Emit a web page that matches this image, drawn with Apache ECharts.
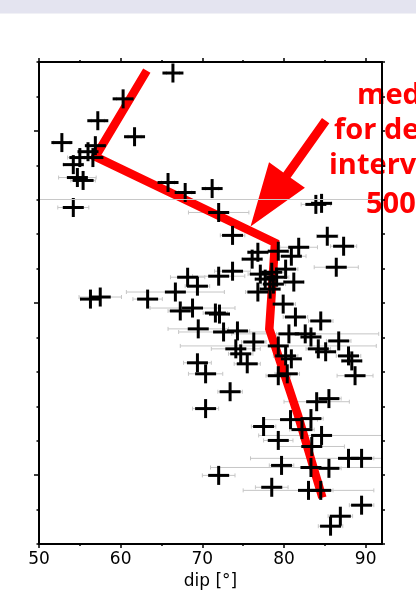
<!DOCTYPE html>
<html>
<head>
<meta charset="utf-8">
<script src="https://cdn.jsdelivr.net/npm/echarts@6/dist/echarts.min.js"></script>
<style>
  html, body { margin: 0; padding: 0; background: #ffffff; }
  #chart { width: 416px; height: 595px; }
</style>
</head>
<body>
<div id="chart"></div>
<script>
// Dip of each fracture measurement [°]
const dip = [
  66.4, 60.3, 57.2, 61.7, 52.8, 56.9, 56.0, 55.0, 56.6, 54.2,
  54.7, 55.4, 54.2, 65.8, 67.9, 71.2, 72.0, 83.9, 84.6, 73.7,
  85.3, 87.3, 81.8, 79.3, 80.9, 76.8, 76.1, 77.1, 86.4, 73.7,
  72.0, 68.2, 69.4, 66.7, 76.8, 78.5, 79.1, 77.7, 78.7, 81.2,
  80.2, 78.3, 63.3, 56.3, 57.5, 67.3, 68.8, 71.6, 72.1, 79.9,
  69.5, 72.6, 74.3, 81.4, 84.5, 80.6, 82.6, 83.3, 86.7, 76.3,
  74.1, 74.7, 79.3, 84.2, 85.1, 87.9, 88.3, 80.2, 80.9, 69.4,
  70.4, 75.5, 79.3, 80.4, 88.7, 73.4, 70.4, 84.0, 85.5, 80.8,
  83.3, 77.5, 82.2, 84.6, 79.3, 83.4, 87.9, 89.5, 79.7, 83.3,
  85.5, 72.0, 78.5, 83.0, 84.5, 89.5, 86.9, 85.7
];
// Depth of each measurement [m]
const depth = [
  664, 814, 941, 1034, 1068, 1086, 1121, 1155, 1155, 1196,
  1271, 1288, 1445, 1300, 1358, 1335, 1474, 1427, 1421, 1607,
  1612, 1670, 1676, 1699, 1728, 1705, 1745, 1832, 1792, 1815,
  1844, 1850, 1902, 1936, 1936, 1821, 1850, 1861, 1890, 1878,
  1803, 1919, 1977, 1977, 1965, 2046, 2029, 2058, 2064, 2006,
  2150, 2168, 2162, 2081, 2104, 2179, 2179, 2197, 2220, 2226,
  2266, 2295, 2249, 2266, 2283, 2307, 2336, 2307, 2324, 2347,
  2411, 2353, 2422, 2411, 2422, 2515, 2613, 2573, 2555, 2677,
  2671, 2717, 2735, 2769, 2798, 2833, 2902, 2902, 2943, 2955,
  2960, 3001, 3070, 3088, 3088, 3174, 3238, 3296
];
// Dip uncertainty, half width [°]
const dipErr = [
  0.8, 0.8, 0.8, 0.8, 1.0, 1.0, 1.0, 1.5, 1.0, 1.2,
  2.3, 1.5, 1.9, 0.8, 0.8, 0.8, 3.7, 1.8, 1.2, 1.5,
  1.3, 1.6, 2.3, 1.2, 1.8, 1.2, 1.2, 1.5, 2.7, 2.2,
  3.2, 2.1, 1.5, 6.0, 1.5, 1.5, 1.5, 1.2, 1.5, 1.2,
  1.5, 1.2, 1.8, 1.2, 2.6, 1.5, 5.2, 1.5, 1.2, 1.5,
  3.7, 5.5, 1.5, 1.5, 1.5, 1.5, 9.0, 1.2, 1.5, 1.5,
  3.0, 1.5, 12.0, 1.5, 1.2, 1.5, 1.2, 1.5, 1.2, 1.7,
  2.1, 1.6, 1.5, 1.5, 2.2, 1.5, 1.6, 4.0, 1.5, 3.3,
  1.5, 1.5, 1.5, 7.7, 1.8, 4.0, 12.0, 1.5, 1.5, 12.3,
  1.5, 2.0, 2.0, 8.0, 1.5, 1.5, 1.5, 1.5
];
// Median dip for each 500 m depth interval
const medianDepth = [650, 1150, 1650, 2150, 2650, 3130];
const medianDip = [63.2, 56.9, 78.9, 78.2, 81.7, 84.7];
// Axis ticks
const dipTicks = [50, 60, 70, 80, 90];
const dipMinorTicks = [55, 65, 75, 85];
const depthMajorTicks = [1000, 2000, 3000];
// Depth of the horizontal reference line [m]
const referenceDepth = 1400;
// Annotation text
const noteLines = ['median', 'for depth', 'interval', '500 m'];

const chart = echarts.init(document.getElementById('chart'), null, { renderer: 'canvas' });

const points = dip.map((d, i) => [d, depth[i], dipErr[i]]);
const medianLine = medianDip.map((d, i) => [d, medianDepth[i]]);

const BLACK = '#000000';
const RED = '#ff0000';
const labelFont = 'DejaVu Sans';
const noteFont = 'bold 29px "Open Sans"';

function xAxisDef(position, ticks, len, withLabels, showLine) {
  const ax = {
    type: 'value', min: 50, max: 92, position: position, z: 5,
    axisLine: { show: showLine, onZero: false, lineStyle: { color: BLACK, width: 2 } },
    axisTick: { show: true, customValues: ticks, length: len, inside: false,
                lineStyle: { color: BLACK, width: 1.5 } },
    axisLabel: { show: false },
    splitLine: { show: false }
  };
  if (withLabels) {
    ax.axisLabel = { show: true, customValues: ticks, color: BLACK,
                     fontFamily: labelFont, fontSize: 17, margin: 7 };
    ax.name = 'dip [°]';
    ax.nameLocation = 'middle';
    ax.nameGap = 27;
    ax.nameTextStyle = { color: BLACK, fontFamily: labelFont, fontSize: 17 };
  }
  return ax;
}

function yAxisDef(position, opts) {
  return Object.assign({
    type: 'value', inverse: true, min: 600, max: 3400, position: position, z: 5,
    axisLine: { show: true, onZero: false, lineStyle: { color: BLACK, width: 2 } },
    axisLabel: { show: false },
    splitLine: { show: false }
  }, opts);
}

const option = {
  animation: false,
  backgroundColor: '#ffffff',
  grid: { left: 39, top: 62, right: 34, bottom: 50, containLabel: false },
  xAxis: [
    xAxisDef('bottom', dipTicks, 4, true, true),
    xAxisDef('bottom', dipMinorTicks, 2, false, false),
    xAxisDef('top', dipTicks, 4, false, true),
    xAxisDef('top', dipMinorTicks, 2, false, false)
  ],
  yAxis: [
    yAxisDef('left', { axisTick: { show: true, customValues: depthMajorTicks, length: 5,
                                   lineStyle: { color: BLACK, width: 1.5 } } }),
    yAxisDef('left', { interval: 200, axisLine: { show: false },
                       axisTick: { show: true, length: 2.5, lineStyle: { color: BLACK, width: 1.5 } } }),
    yAxisDef('right', { interval: 200,
                        axisTick: { show: true, length: 3, lineStyle: { color: BLACK, width: 1.5 } } })
  ],
  graphic: [
    { type: 'rect', left: 0, top: 0, z: -10, silent: true,
      shape: { width: 416, height: 13 }, style: { fill: '#e4e4f0' } },
    { type: 'rect', left: 0, top: 13, z: -10, silent: true,
      shape: { width: 416, height: 1 }, style: { fill: '#f1f1f6' } },
    { type: 'text', x: 357, y: 96, z: -1, silent: true,
      style: { text: noteLines[0], fill: RED, font: noteFont, verticalAlign: 'middle' } },
    { type: 'text', x: 334, y: 131, z: -1, silent: true,
      style: { text: noteLines[1], fill: RED, font: noteFont, verticalAlign: 'middle' } },
    { type: 'text', x: 329, y: 166, z: -1, silent: true,
      style: { text: noteLines[2], fill: RED, font: noteFont, verticalAlign: 'middle' } },
    { type: 'text', x: 366, y: 205, z: -1, silent: true,
      style: { text: noteLines[3], fill: RED, font: noteFont, verticalAlign: 'middle' } }
  ],
  series: [
    {
      // horizontal uncertainty bars with end caps
      type: 'custom', xAxisIndex: 0, yAxisIndex: 0, z: 1, clip: true, silent: true,
      data: points,
      encode: { x: 0, y: 1 },
      renderItem: function (params, api) {
        const d = api.value(0), z = api.value(1), e = api.value(2);
        const pl = api.coord([d - e, z]);
        const pr = api.coord([d + e, z]);
        const y = pl[1];
        const st = { stroke: '#c6c6c6', lineWidth: 1, fill: null };
        return { type: 'group', children: [
          { type: 'line', shape: { x1: pl[0], y1: y, x2: pr[0], y2: y }, style: st },
          { type: 'line', shape: { x1: pl[0], y1: y - 2, x2: pl[0], y2: y + 2 }, style: st },
          { type: 'line', shape: { x1: pr[0], y1: y - 2, x2: pr[0], y2: y + 2 }, style: st }
        ] };
      },
      markLine: {
        silent: true, symbol: ['none', 'none'], label: { show: false },
        lineStyle: { color: '#c8c8c8', width: 1, type: 'solid' },
        data: [{ yAxis: referenceDepth }]
      }
    },
    {
      // median dip per depth interval
      type: 'line', xAxisIndex: 0, yAxisIndex: 0, z: 2, silent: true,
      data: medianLine, symbol: 'none',
      lineStyle: { color: RED, width: 8.5, cap: 'butt', join: 'miter' }
    },
    {
      // arrow pointing at the median curve
      type: 'custom', xAxisIndex: 0, yAxisIndex: 0, z: 2, silent: true,
      data: [[85.1, 940, 75.9, 1555]],
      encode: { x: [0, 2], y: [1, 3] },
      renderItem: function (params, api) {
        const t = api.coord([api.value(0), api.value(1)]);
        const p = api.coord([api.value(2), api.value(3)]);
        const dx = p[0] - t[0], dy = p[1] - t[1];
        const len = Math.sqrt(dx * dx + dy * dy);
        const ux = dx / len, uy = dy / len;
        const nx = -uy, ny = ux;
        const shaft = 4.5, headW = 22, headL = 63;
        const bx = p[0] - ux * headL, by = p[1] - uy * headL;
        const pts = [
          [t[0] + nx * shaft, t[1] + ny * shaft],
          [bx + nx * shaft, by + ny * shaft],
          [bx + nx * headW, by + ny * headW],
          [p[0], p[1]],
          [bx - nx * headW, by - ny * headW],
          [bx - nx * shaft, by - ny * shaft],
          [t[0] - nx * shaft, t[1] - ny * shaft]
        ];
        return { type: 'polygon', shape: { points: pts }, style: { fill: RED } };
      }
    },
    {
      // measurement crosses
      type: 'custom', xAxisIndex: 0, yAxisIndex: 0, z: 3, clip: true, silent: true,
      data: points,
      encode: { x: 0, y: 1 },
      renderItem: function (params, api) {
        const c = api.coord([api.value(0), api.value(1)]);
        const st = { stroke: BLACK, lineWidth: 3, fill: null };
        return { type: 'group', children: [
          { type: 'line', shape: { x1: c[0] - 10.5, y1: c[1], x2: c[0] + 10.5, y2: c[1] }, style: st },
          { type: 'line', shape: { x1: c[0], y1: c[1] - 9.5, x2: c[0], y2: c[1] + 9.5 }, style: st }
        ] };
      }
    }
  ]
};

chart.setOption(option);
</script>
</body>
</html>
